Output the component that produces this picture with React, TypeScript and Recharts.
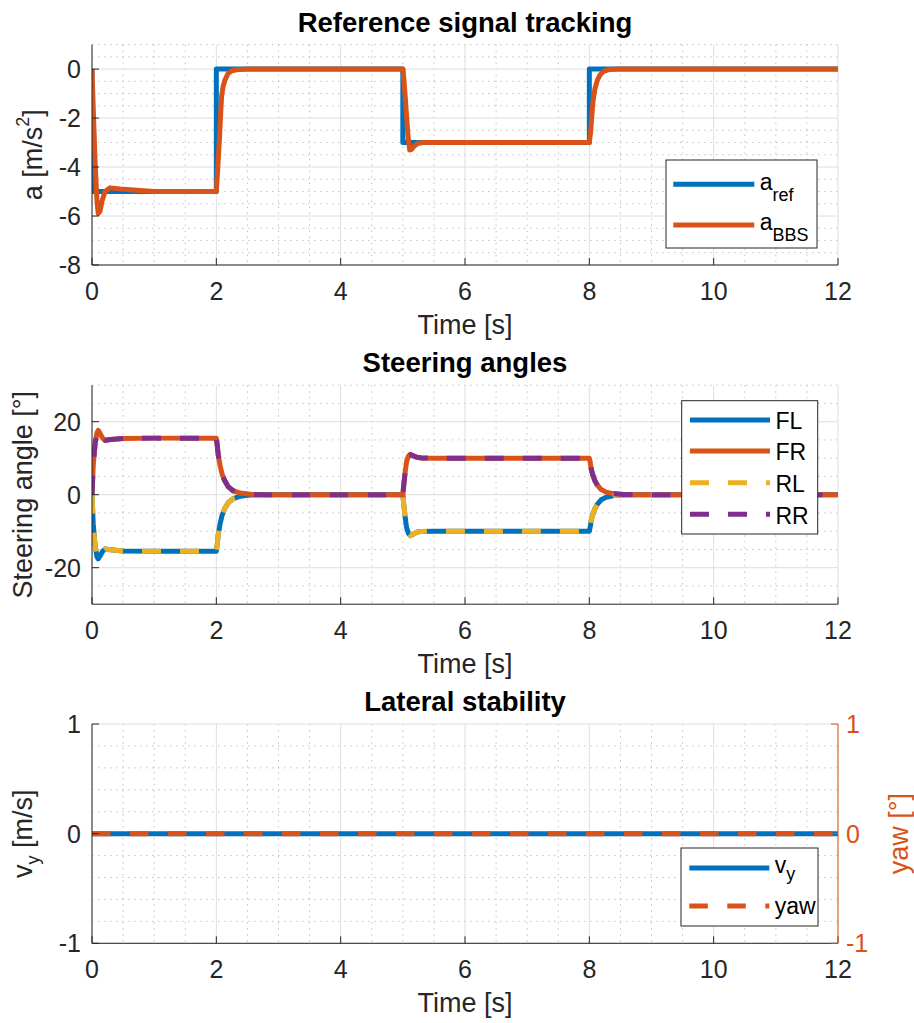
import { LineChart, Line, XAxis, YAxis, CartesianGrid, Label } from 'recharts'

/* ---------- colours / fonts ---------- */

const BLUE = '#0072BD'
const ORANGE = '#D95319'
const YELLOW = '#EDB120'
const PURPLE = '#7E2F8E'
const INK = '#262626'
const MAJOR = '#dedede'
const MINOR = '#c2c2c2'
const FONT = '"Liberation Sans", Arial, Helvetica, sans-serif'

/* ---------- shared time axis ---------- */

const timeTicks = [0, 2, 4, 6, 8, 10, 12]
const timeMinor = [0.5, 1, 1.5, 2.5, 3, 3.5, 4.5, 5, 5.5, 6.5, 7, 7.5, 8.5, 9, 9.5, 10.5, 11, 11.5]

/* ---------- reference signal tracking ---------- */

const accTicks = [-8, -6, -4, -2, 0]
const accMinor = [-7.5, -7, -6.5, -5.5, -5, -4.5, -3.5, -3, -2.5, -1.5, -1, -0.5, 0.5, 1]

const aRefTime = [0, 0, 2, 2, 5, 5, 8, 8, 12]
const aRefVal = [0, -5, -5, 0, 0, -3, -3, 0, 0]

const aBbsTime = [
  0, 0.02, 0.05, 0.08, 0.1, 0.13, 0.16, 0.21, 0.29, 0.45, 1.0,
  2.0, 2.02, 2.035, 2.05, 2.07, 2.085, 2.11, 2.14, 2.19, 2.25, 2.33, 2.5,
  5.0, 5.02, 5.04, 5.06, 5.085, 5.11, 5.14, 5.18, 5.24, 5.32,
  8.0, 8.02, 8.04, 8.06, 8.09, 8.13, 8.17, 8.22, 8.3, 8.45, 12,
]
const aBbsVal = [
  0, -1.6, -3.8, -5.4, -5.9, -5.8, -5.4, -5.0, -4.85, -4.9, -5.0,
  -5.0, -4.2, -3.5, -2.85, -1.8, -1.1, -0.7, -0.44, -0.17, -0.07, -0.03, 0,
  0, -0.5, -1.2, -1.9, -2.8, -3.3, -3.28, -3.15, -3.04, -3.0,
  -3.0, -2.6, -1.9, -1.3, -0.8, -0.45, -0.25, -0.1, -0.03, 0, 0,
]

/* ---------- steering angles ---------- */

const steerTicks = [-20, 0, 20]
const steerMinor = [-25, -15, -10, -5, 5, 10, 15, 25, 30]

const steerTime = [
  0, 0.02, 0.05, 0.08, 0.1, 0.13, 0.17, 0.21, 0.3, 0.5, 1.0,
  2.0, 2.015, 2.03, 2.06, 2.09, 2.13, 2.19, 2.27, 2.38, 2.55, 2.8,
  5.0, 5.02, 5.04, 5.06, 5.09, 5.12, 5.16, 5.22, 5.3, 5.5,
  8.0, 8.015, 8.03, 8.06, 8.09, 8.13, 8.19, 8.27, 8.38, 8.55, 8.8, 12,
]
const steerFL = [
  0, -8, -14, -17, -17.6, -16.8, -15.5, -14.9, -15.1, -15.4, -15.5,
  -15.5, -13.5, -11, -8, -5.8, -4, -2.2, -1.1, -0.45, -0.1, 0,
  0, -3.5, -6.5, -9, -10.6, -11.2, -10.9, -10.3, -10.05, -10,
  -10, -8.8, -7, -5.2, -3.8, -2.6, -1.4, -0.7, -0.3, -0.05, 0, 0,
]
const steerFR = [
  0, 8, 14, 17, 17.6, 16.8, 15.5, 14.9, 15.1, 15.4, 15.5,
  15.5, 13.5, 11, 8, 5.8, 4, 2.2, 1.1, 0.45, 0.1, 0,
  0, 3.5, 6.5, 9, 10.6, 11.0, 10.7, 10.3, 10.05, 10,
  10, 8.8, 7, 5.2, 3.8, 2.6, 1.4, 0.7, 0.3, 0.05, 0, 0,
]
// rear wheels sit exactly on top of the front ones in the figure
const steerRL = steerFL
const steerRR = steerFR

/* ---------- lateral stability ---------- */

const latTicks = [-1, 0, 1]
const latMinor = [-0.8, -0.6, -0.4, -0.2, 0.2, 0.4, 0.6, 0.8]

const latTime = [0, 12]
const vyVal = [0, 0]
const yawVal = [0, 0]

/* ---------- helpers ---------- */

type Pt = { t: number; v: number }
const toPts = (ts: number[], vs: number[]): Pt[] => ts.map((t, i) => ({ t, v: vs[i] }))

const tickStyle = { fill: INK, fontSize: 25, fontFamily: FONT }

// eslint-disable-next-line @typescript-eslint/no-explicit-any
const timeLabel = (props: any) => {
  const vb = props.viewBox || {}
  return (
    <text x={vb.x + vb.width / 2} y={vb.y + 69} textAnchor="middle" fontSize={27} fill={INK} fontFamily={FONT}>
      Time [s]
    </text>
  )
}

// eslint-disable-next-line @typescript-eslint/no-explicit-any
const yLabel = (dx: number, color: string, body: React.ReactNode) => (props: any) => {
  const vb = props.viewBox || {}
  const x = vb.x + dx
  const y = vb.y + vb.height / 2
  return (
    <text x={x} y={y} transform={`rotate(-90, ${x}, ${y})`} textAnchor="middle" fontSize={27} fill={color} fontFamily={FONT}>
      {body}
    </text>
  )
}

const timeAxis = (h: number) => (
  <XAxis
    dataKey="t"
    type="number"
    domain={[0, 12]}
    ticks={timeTicks}
    interval={0}
    allowDataOverflow
    height={h}
    stroke={INK}
    tick={tickStyle}
    tickSize={-7}
    tickMargin={24}
  >
    <Label content={timeLabel} />
  </XAxis>
)

/* ---------- component ---------- */

export default function App() {
  const aRef = toPts(aRefTime, aRefVal)
  const aBbs = toPts(aBbsTime, aBbsVal)
  const fl = toPts(steerTime, steerFL)
  const fr = toPts(steerTime, steerFR)
  const rl = toPts(steerTime, steerRL)
  const rr = toPts(steerTime, steerRR)
  const vy = toPts(latTime, vyVal)
  const yaw = toPts(latTime, yawVal)

  return (
    <div style={{ position: 'absolute', left: 0, top: 0, width: 914, height: 1023, background: '#fff' }}>
      {/* ---- reference signal tracking ---- */}
      <div style={{ position: 'absolute', left: 0, top: 0 }}>
        <LineChart width={914} height={340} margin={{ top: 44.6, right: 76, bottom: 0, left: 0 }}>
          <CartesianGrid stroke={MINOR} strokeDasharray="1.5 4.5" verticalValues={timeMinor} horizontalValues={accMinor} />
          <CartesianGrid stroke={MAJOR} syncWithTicks />
          {timeAxis(75)}
          <YAxis
            type="number"
            domain={[-8, 1]}
            ticks={accTicks}
            interval={0}
            width={92}
            stroke={INK}
            tick={tickStyle}
            tickSize={-7}
            tickMargin={18}
          >
            <Label
              content={yLabel(42, INK, <>a [m/s<tspan dy={-13} fontSize={18}>2</tspan><tspan dy={13}>]</tspan></>)}
            />
          </YAxis>
          <Line data={aRef} dataKey="v" stroke={BLUE} strokeWidth={5} dot={false} isAnimationActive={false} strokeLinejoin="round" />
          <Line data={aBbs} dataKey="v" stroke={ORANGE} strokeWidth={5} dot={false} isAnimationActive={false} strokeLinejoin="round" />
        </LineChart>
      </div>

      {/* ---- steering angles ---- */}
      <div style={{ position: 'absolute', left: 0, top: 340 }}>
        <LineChart width={914} height={340} margin={{ top: 45.2, right: 76, bottom: 0, left: 0 }}>
          <CartesianGrid stroke={MINOR} strokeDasharray="1.5 4.5" verticalValues={timeMinor} horizontalValues={steerMinor} />
          <CartesianGrid stroke={MAJOR} syncWithTicks />
          {timeAxis(75.8)}
          <YAxis
            type="number"
            domain={[-30, 30]}
            ticks={steerTicks}
            interval={0}
            width={92}
            stroke={INK}
            tick={tickStyle}
            tickSize={-7}
            tickMargin={18}
          >
            <Label content={yLabel(32.5, INK, 'Steering angle [°]')} />
          </YAxis>
          <Line data={fl} dataKey="v" stroke={BLUE} strokeWidth={5} dot={false} isAnimationActive={false} strokeLinejoin="round" />
          <Line data={fr} dataKey="v" stroke={ORANGE} strokeWidth={5} dot={false} isAnimationActive={false} strokeLinejoin="round" />
          <Line data={rl} dataKey="v" stroke={YELLOW} strokeWidth={5} strokeDasharray="19 19" dot={false} isAnimationActive={false} />
          <Line data={rr} dataKey="v" stroke={PURPLE} strokeWidth={5} strokeDasharray="19 19" dot={false} isAnimationActive={false} />
        </LineChart>
      </div>

      {/* ---- lateral stability ---- */}
      <div style={{ position: 'absolute', left: 0, top: 680 }}>
        <LineChart width={914} height={343} margin={{ top: 44, right: 0, bottom: 0, left: 0 }}>
          <CartesianGrid yAxisId="left" stroke={MINOR} strokeDasharray="1.5 4.5" verticalValues={timeMinor} horizontalValues={latMinor} />
          <CartesianGrid yAxisId="left" stroke={MAJOR} syncWithTicks />
          {timeAxis(79.7)}
          <YAxis
            yAxisId="left"
            type="number"
            domain={[-1, 1]}
            ticks={latTicks}
            interval={0}
            width={92}
            stroke={INK}
            tick={tickStyle}
            tickSize={-7}
            tickMargin={18}
          >
            <Label content={yLabel(32, INK, <>v<tspan dy={7} fontSize={18}>y</tspan><tspan dy={-7}> [m/s]</tspan></>)} />
          </YAxis>
          <YAxis
            yAxisId="right"
            orientation="right"
            type="number"
            domain={[-1, 1]}
            ticks={latTicks}
            interval={0}
            width={76}
            stroke={ORANGE}
            tick={{ ...tickStyle, fill: ORANGE }}
            tickSize={-7}
            tickMargin={15}
          >
            <Label content={yLabel(70, ORANGE, 'yaw [°]')} />
          </YAxis>
          <Line yAxisId="left" data={vy} dataKey="v" stroke={BLUE} strokeWidth={5} dot={false} isAnimationActive={false} />
          <Line yAxisId="right" data={yaw} dataKey="v" stroke={ORANGE} strokeWidth={5} strokeDasharray="18.5 19.5" dot={false} isAnimationActive={false} />
        </LineChart>
      </div>

      {/* ---- titles and legends ---- */}
      <svg width={914} height={1023} style={{ position: 'absolute', left: 0, top: 0, pointerEvents: 'none' }} fontFamily={FONT}>
        <g fontSize={27.5} fontWeight="bold" fill="#000" textAnchor="middle">
          <text x={465} y={31.7}>Reference signal tracking</text>
          <text x={465} y={372.3}>Steering angles</text>
          <text x={465} y={711}>Lateral stability</text>
        </g>

        <g transform="translate(666, 160)" fontSize={23} fill="#000">
          <rect x={0} y={0} width={151} height={88} fill="#fff" stroke={INK} strokeWidth={1} />
          <line x1={7.3} x2={88.3} y1={24.3} y2={24.3} stroke={BLUE} strokeWidth={5} />
          <line x1={7.3} x2={88.3} y1={65} y2={65} stroke={ORANGE} strokeWidth={5} />
          <text x={93.7} y={30}>a<tspan dy={11} fontSize={18}>ref</tspan></text>
          <text x={93.7} y={70}>a<tspan dy={10.7} fontSize={18}>BBS</tspan></text>
        </g>

        <g transform="translate(681.7, 400.7)" fontSize={23} fill="#000">
          <rect x={0} y={0} width={136} height={133.3} fill="#fff" stroke={INK} strokeWidth={1} />
          <line x1={8.3} x2={88.3} y1={19.3} y2={19.3} stroke={BLUE} strokeWidth={5} />
          <line x1={8.3} x2={88.3} y1={50.3} y2={50.3} stroke={ORANGE} strokeWidth={5} />
          <line x1={8.3} x2={88.3} y1={82} y2={82} stroke={YELLOW} strokeWidth={5} strokeDasharray="19 19" />
          <line x1={8.3} x2={88.3} y1={113.6} y2={113.6} stroke={PURPLE} strokeWidth={5} strokeDasharray="19 19" />
          <text x={93.8} y={28.6}>FL</text>
          <text x={93.8} y={59.6}>FR</text>
          <text x={93.8} y={91.3}>RL</text>
          <text x={93.8} y={122.9}>RR</text>
        </g>

        <g transform="translate(681, 848)" fontSize={23} fill="#000">
          <rect x={0} y={0} width={137} height={78} fill="#fff" stroke={INK} strokeWidth={1} />
          <line x1={8.3} x2={88.3} y1={20} y2={20} stroke={BLUE} strokeWidth={5} />
          <line x1={8.3} x2={88.3} y1={58} y2={58} stroke={ORANGE} strokeWidth={5} strokeDasharray="18.5 19.5" />
          <text x={93.8} y={25}>v<tspan dy={7} fontSize={18}>y</tspan></text>
          <text x={93.8} y={66}>yaw</text>
        </g>
      </svg>
    </div>
  )
}
